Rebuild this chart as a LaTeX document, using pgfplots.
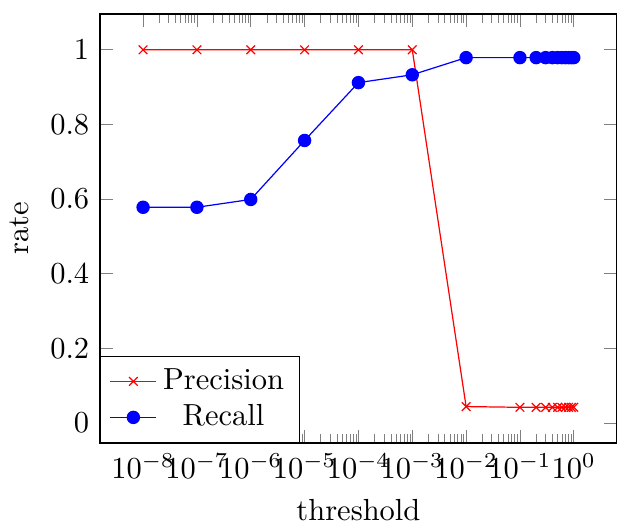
\documentclass[border=0pt]{standalone}
\usepackage{pgfplots}
\pgfplotsset{compat=1.18}
\begin{document}
\begin{tikzpicture}
\begin{semilogxaxis}[
  name=ax,
  scale only axis,
  width=169.5pt, height=140.7pt,
  enlargelimits=0.1,
  xlabel={threshold}, ylabel={rate},
  xtick={1e-8,1e-7,1e-6,1e-5,1e-4,1e-3,1e-2,1e-1,1},
  ytick={0,0.2,0.4,0.6,0.8,1},
  yticklabels={0,0.2,0.4,0.6,0.8,1},
  legend cell align=center,
  legend style={at={(0,0)}, anchor=south west, row sep=-0.6pt},
  legend image code/.code={\draw[mark repeat=2,mark phase=2] plot coordinates {(0cm,0cm)(0.265cm,0cm)(0.53cm,0cm)};},
]
\addplot[red, mark=x] coordinates {
(1e-8,1) (1e-7,1) (1e-6,1) (1e-5,1) (1e-4,1) (1e-3,1) (1e-2,0.044)
(0.1,0.042) (0.2,0.042) (0.3,0.042) (0.4,0.042) (0.5,0.042) (0.6,0.042) (0.7,0.042) (0.8,0.042) (0.9,0.042) (1.0,0.042)
};
\addlegendentry{Precision}
\addplot[blue, mark=*, mark options={fill=blue}] coordinates {
(1e-8,0.578) (1e-7,0.578) (1e-6,0.599) (1e-5,0.757) (1e-4,0.912) (1e-3,0.933) (1e-2,0.979)
(0.1,0.979) (0.2,0.979) (0.3,0.979) (0.4,0.979) (0.5,0.979) (0.6,0.979) (0.7,0.979) (0.8,0.979) (0.9,0.979) (1.0,0.979)
};
\addlegendentry{Recall}
\end{semilogxaxis}
\pgfresetboundingbox
\useasboundingbox ([xshift=-32.8pt,yshift=-26.9pt]ax.south west) rectangle ([xshift=0.7pt,yshift=4.6pt]ax.north east);
\end{tikzpicture}
\end{document}
